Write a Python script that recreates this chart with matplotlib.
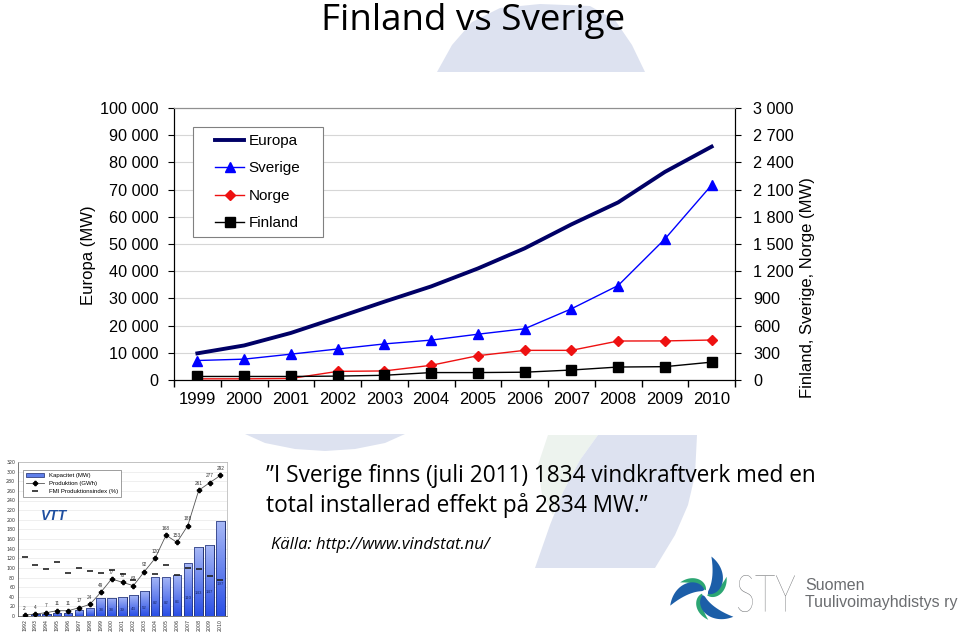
import matplotlib
matplotlib.use('Agg')
import matplotlib.pyplot as plt
import matplotlib.ticker as ticker
from matplotlib.patches import Polygon, Rectangle, PathPatch
from matplotlib.textpath import TextPath
from matplotlib.font_manager import FontProperties
from matplotlib.transforms import Affine2D
import numpy as np

# main chart data (MW)
years = ['1999', '2000', '2001', '2002', '2003', '2004', '2005', '2006', '2007', '2008', '2009', '2010']
europa = [9800, 12700, 17300, 23000, 28800, 34400, 41000, 48400, 57200, 65300, 76500, 85800]
sverige = [215, 230, 285, 342, 398, 440, 505, 565, 785, 1042, 1555, 2150]
norge = [13, 13, 17, 95, 100, 162, 268, 327, 327, 430, 431, 441]
finland = [39, 39, 39, 43, 52, 82, 82, 86, 110, 143, 147, 197]

# small VTT chart (Finland)
vtt_years = ['1992', '1993', '1994', '1995', '1996', '1997', '1998', '1999', '2000', '2001',
             '2002', '2003', '2004', '2005', '2006', '2007', '2008', '2009', '2010']
vtt_capacity = [1, 5, 5, 7, 7, 12, 17, 38, 38, 39, 43, 52, 82, 82, 86, 110, 143, 147, 197]
vtt_production = [2, 4, 7, 11, 11, 17, 24, 49, 77, 70, 63, 92, 120, 168, 153, 188, 261, 277, 292]
vtt_index = [122, 105, 98, 112, 90, 99, 93, 89, 95, 88, 74, np.nan, 88, 107, 85, 99, 98, 83, 74]

arial = 'Liberation Sans'
calibri = 'Open Sans'

fig = plt.figure(figsize=(9.59, 6.35), dpi=100)

# background layer in pixel coordinates
bg = fig.add_axes([0, 0, 1, 1], zorder=0)
bg.set_xlim(0, 959)
bg.set_ylim(635, 0)
bg.axis('off')

pale = '#dde2f0'
bg.add_patch(Polygon([(437, 72), (452, 45), (472, 22), (500, 8), (540, 4), (590, 6), (615, 20),
                      (632, 45), (645, 72)], closed=True, color=pale, lw=0))
bg.add_patch(Polygon([(245, 434), (405, 434), (385, 443), (355, 449), (325, 451), (295, 449),
                      (265, 443)], closed=True, color=pale, lw=0))
bg.add_patch(Polygon([(548, 435), (598, 435), (580, 460), (563, 492), (553, 515), (542, 495),
                      (538, 465)], closed=True, color='#edf3ee', lw=0))
bg.add_patch(Polygon([(598, 435), (697, 435), (695, 475), (688, 505), (675, 535), (655, 568),
                      (535, 568), (550, 525), (563, 492), (580, 460)], closed=True, color=pale, lw=0))

# title
bg.text(473, 21, 'Finland vs Sverige', family=calibri, fontsize=26.5, ha='center', va='center')

# quote text
bg.text(266, 476, '\u201dI Sverige finns (juli 2011) 1834 vindkraftverk med en',
        family=calibri, fontsize=16.3, ha='left', va='center')
bg.text(266, 506, 'total installerad effekt på 2834 MW.\u201d',
        family=calibri, fontsize=16.3, ha='left', va='center')
bg.text(271, 545, 'Källa: http://www.vindstat.nu/', family=calibri, fontsize=12,
        style='italic', ha='left', va='center')

# STY logo: three spiral blades
cx, cy = 705, 593


def blade(a0, sweep, r0, r1, power):
    t = np.linspace(0, 1, 40)
    ang = np.deg2rad(a0 + sweep * t)
    r_out = r0 + (r1 - r0) * t
    r_in = r0 + (r1 - r0) * t ** power
    outer = np.column_stack([cx + r_out * np.cos(ang), cy - r_out * np.sin(ang)])
    inner = np.column_stack([cx + r_in * np.cos(ang), cy - r_in * np.sin(ang)])
    return np.vstack([outer, inner[::-1]])


for k in range(3):
    base = -20 + k * 120
    bg.add_patch(Polygon(blade(base, 100, 3, 37, 5.5), closed=True, color='#1c5ea8', lw=0))
    bg.add_patch(Polygon(blade(base - 28, 85, 3, 27, 3.5), closed=True, color='#2ca673', lw=0,
                         zorder=0.5))

sty = TextPath((0, 0), 'STY', size=1, prop=FontProperties(family='Lato', weight='light'))
bb = sty.get_extents()
tr = Affine2D().translate(-bb.x0, -bb.y0).scale(57 / bb.width, -37 / bb.height).translate(738, 612)
bg.add_patch(PathPatch(tr.transform_path(sty), color='#6b6d70', lw=0))
bg.text(805, 585, 'Suomen', family=arial, fontsize=11.5, color='#6b6d70', ha='left', va='center')
bg.text(805, 603, 'Tuulivoimayhdistys ry', family=arial, fontsize=11.5, color='#6b6d70',
        ha='left', va='center')

# main chart
ax = fig.add_axes([174 / 959, 1 - 380 / 635, 561 / 959, 272 / 635], zorder=2)
ax2 = ax.twinx()
x = np.arange(len(years))

l1, = ax.plot(x, europa, color='#000066', lw=2.8, label='Europa', zorder=3)
l2, = ax2.plot(x, sverige, color='#0000ff', lw=1, marker='^', ms=7, label='Sverige')
l3, = ax2.plot(x, norge, color='#ee1111', lw=1, marker='D', ms=5, label='Norge')
l4, = ax2.plot(x, finland, color='#000000', lw=1, marker='s', ms=7, label='Finland')

ax.set_xlim(-0.5, len(years) - 0.5)
ax.set_ylim(0, 100000)
ax2.set_ylim(0, 3000)
ax.yaxis.set_major_locator(ticker.MultipleLocator(10000))
ax2.yaxis.set_major_locator(ticker.MultipleLocator(300))
space_fmt = ticker.FuncFormatter(lambda v, p: f'{int(round(v)):,}'.replace(',', ' '))
ax.yaxis.set_major_formatter(space_fmt)
ax2.yaxis.set_major_formatter(space_fmt)

ax.set_xticks(x)
ax.set_xticklabels(years)
ax.set_xticks(np.arange(-0.5, len(years)), minor=True)
ax.tick_params(axis='x', which='major', length=0, pad=9, labelsize=12)
ax.tick_params(axis='x', which='minor', length=5, direction='out', width=1)
ax.tick_params(axis='y', length=4, direction='out', pad=7, labelsize=11.7)
ax2.tick_params(axis='y', length=4, direction='out', pad=9, labelsize=11.7)
for a in (ax, ax2):
    for lab in a.get_xticklabels() + a.get_yticklabels():
        lab.set_family(arial)

ax.grid(axis='y', color='#d6d6d6', lw=0.8)
ax.set_axisbelow(True)
for a in (ax, ax2):
    a.spines['top'].set_color('#909090')
    a.spines['left'].set_color('#000000')
    a.spines['bottom'].set_color('#000000')
    a.spines['right'].set_color('#000000')

ax.set_ylabel('Europa (MW)', family=arial, fontsize=12)
ax.yaxis.set_label_coords(-0.139, 0.46)
ax2.set_ylabel('Finland, Sverige, Norge (MW)', family=arial, fontsize=12)
ax2.yaxis.set_label_coords(1.116, 0.34)

# legend box drawn by hand (wide side padding as in the original)
ax2.add_patch(Rectangle((193 / 959, 1 - 237 / 635), 130 / 959, 110 / 635, transform=fig.transFigure,
                        fc='white', ec='#808080', lw=0.8, clip_on=False, zorder=4))
leg = ax2.legend(handles=[l1, l2, l3, l4], loc='upper left',
                 bbox_to_anchor=(215 / 959, 1 - 134 / 635), bbox_transform=fig.transFigure,
                 frameon=False, borderaxespad=0, borderpad=0,
                 prop={'family': arial, 'size': 11}, handlelength=1.9, labelspacing=0.88,
                 handletextpad=0.3)
leg.set_zorder(5)

# small VTT chart
ins = fig.add_axes([18 / 959, 1 - 616 / 635, 209 / 959, 154 / 635], zorder=2)
xi = np.arange(len(vtt_years))
bars = ins.bar(xi, vtt_capacity, width=0.78, color='#5f7fea', edgecolor='#1b2a6b', lw=0.5,
               label='Kapacitet (MW)', zorder=2)
grad = np.linspace(1, 0, 64).reshape(-1, 1)
for b in bars:
    im = ins.imshow(grad, extent=[b.get_x(), b.get_x() + b.get_width(), 0, b.get_height()],
                    aspect='auto', cmap=matplotlib.colors.LinearSegmentedColormap.from_list(
                        'vb', ['#2a4fe6', '#a7b8f6']), zorder=2.1, origin='upper')
    im.set_clip_path(b)
    ins.add_patch(Rectangle((b.get_x(), 0), b.get_width(), b.get_height(), fill=False,
                            ec='#1b2a6b', lw=0.5, zorder=2.2))
ins.plot(xi, vtt_production, color='#555555', lw=0.6, marker='P', ms=3, mfc='black', mec='black',
         label='Produktion (GWh)', zorder=3)
ins.plot(xi, vtt_index, ls='none', marker='_', ms=4, mew=1.2, color='#222222',
         label='FMI Produktionsindex (%)', zorder=4)
for i, v in enumerate(vtt_production):
    ins.text(xi[i], v + 9, str(v), fontsize=3.4, color='#333333', ha='center', va='bottom',
             family=arial)
for i, v in enumerate(vtt_capacity):
    if v >= 38:
        ins.text(xi[i], v / 3, str(v), fontsize=3.2, color='#1b2a6b', ha='center', va='center',
                 family=arial, zorder=5)
ins.set_xlim(-0.6, len(vtt_years) - 0.4)
ins.set_ylim(0, 320)
ins.yaxis.set_major_locator(ticker.MultipleLocator(20))
ins.set_xticks(xi)
ins.set_xticklabels(vtt_years, rotation=90)
ins.tick_params(axis='both', length=0, labelsize=3.4, pad=2, colors='#333333')
ins.grid(axis='y', color='#e4e4e4', lw=0.4)
ins.set_axisbelow(True)
for s in ins.spines.values():
    s.set_color('#b0b0b0')
    s.set_linewidth(0.5)
ins.spines['left'].set_color('#444444')
ins.spines['bottom'].set_color('#444444')
h, lb = ins.get_legend_handles_labels()
order = [lb.index('Kapacitet (MW)'), lb.index('Produktion (GWh)'), lb.index('FMI Produktionsindex (%)')]
ileg = ins.legend([h[i] for i in order], [lb[i] for i in order], loc='upper left',
                  bbox_to_anchor=(23 / 959, 1 - 470 / 635),
                  bbox_transform=fig.transFigure, fancybox=False, framealpha=1,
                  edgecolor='#777777', borderaxespad=0, prop={'family': arial, 'size': 4.3},
                  handlelength=3, labelspacing=0.45, borderpad=0.5)
ileg.get_frame().set_linewidth(0.5)
fig.text(54 / 959, 1 - 516 / 635, 'VTT', family=arial, fontsize=10, style='italic',
         fontweight='bold', color='#1f4fa0', ha='center', va='center', zorder=10)

fig.savefig('out.png', dpi=100)
